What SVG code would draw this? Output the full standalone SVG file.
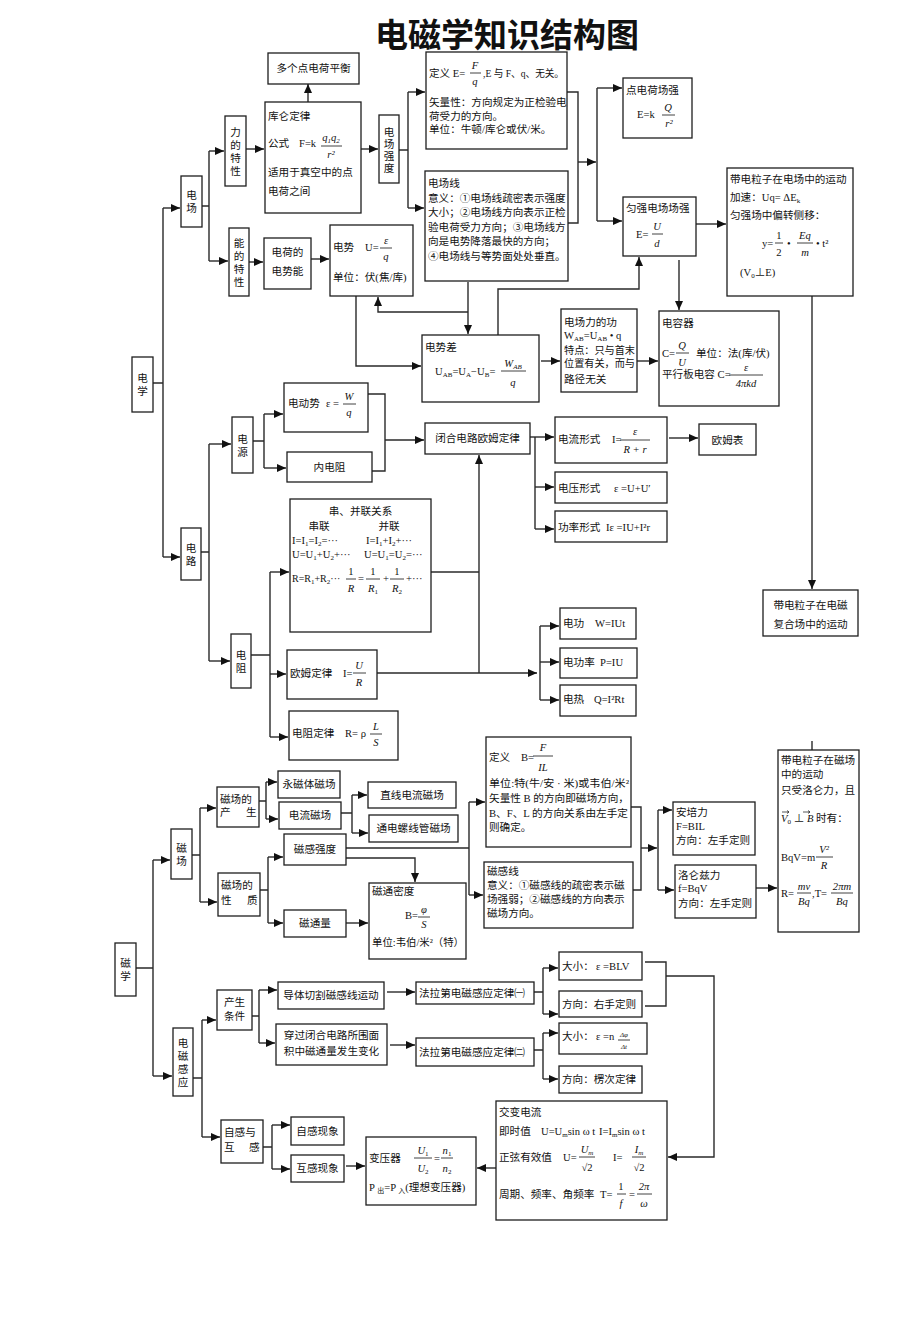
<svg xmlns="http://www.w3.org/2000/svg" width="920" height="1329" viewBox="0 0 920 1329">
<style>
.bx{fill:#fff;stroke:#1e1e1e;stroke-width:1.3}
.c path{fill:none;stroke:#2a2a2a;stroke-width:1.4}
.c .a{marker-end:url(#ah)}
text{font-family:"Liberation Serif","Noto Sans CJK SC",serif;font-size:10.6px;fill:#111}
.m{font-style:italic}
.mid{text-anchor:middle}
.fl{stroke:#111;stroke-width:0.8}
.sb{font-size:7px}
.tiny{font-size:7px}
</style>
<defs>
<marker id="ah" markerWidth="9" markerHeight="8" refX="9" refY="4" orient="auto" markerUnits="userSpaceOnUse"><path d="M0,0 L9,4 L0,8 z" fill="#111"/></marker>
</defs>
<rect width="920" height="1329" fill="#fff"/>
<g id="title"><text x="507" y="47" style="font-family:'Noto Sans CJK SC',sans-serif;font-size:33px;font-weight:700;text-anchor:middle">电磁学知识结构图</text></g>

<g id="connectors" class="c">
<path d="M152,383H163M163,208V557"/>
<path class="a" d="M163,208H180"/>
<path class="a" d="M163,557H180"/>
<path d="M202,206H209M209,151V261"/>
<path class="a" d="M209,151H224"/>
<path class="a" d="M209,261H228"/>
<path class="a" d="M246,149H264"/>
<path class="a" d="M308,102V84"/>
<path class="a" d="M361,149H378"/>
<path d="M399,150H408M408,92V208"/>
<path class="a" d="M408,92H425"/>
<path class="a" d="M408,208H424"/>
<path d="M567,92H578V223H568"/>
<path class="a" d="M578,162H596"/>
<path d="M597,88V221"/>
<path class="a" d="M597,88H622"/>
<path class="a" d="M597,221H622"/>
<path class="a" d="M696,224H726"/>
<path class="a" d="M679,260V310"/>
<path class="a" d="M812,296V589"/>
<path class="a" d="M249,262H263"/>
<path class="a" d="M311,259H329"/>
<path class="a" d="M356,296V366H421"/>
<path class="a" d="M468,282V334"/>
<path class="a" d="M468,312H378V297"/>
<path class="a" d="M498,335V289H639V257"/>
<path class="a" d="M541,361H560"/>
<path class="a" d="M637,361H658"/>
<path d="M201,552H209M209,444V661"/>
<path class="a" d="M209,444H231"/>
<path class="a" d="M209,661H230"/>
<path d="M253,441H264M264,414V468"/>
<path class="a" d="M264,414H283"/>
<path class="a" d="M264,468H286"/>
<path d="M368,394H385V471H372"/>
<path class="a" d="M385,440H424"/>
<path class="a" d="M530,437H554"/>
<path d="M535,437V529"/>
<path class="a" d="M535,487H554"/>
<path class="a" d="M535,529H554"/>
<path class="a" d="M669,438H698"/>
<path d="M251,655H270M270,572V737"/>
<path class="a" d="M270,572H289"/>
<path class="a" d="M270,674H286"/>
<path class="a" d="M270,737H288"/>
<path d="M431,572H479"/>
<path class="a" d="M479,673V455"/>
<path class="a" d="M377,673H537"/>
<path d="M540,626V700"/>
<path class="a" d="M540,626H559"/>
<path class="a" d="M540,662H559"/>
<path class="a" d="M540,700H559"/>
<path d="M136,968H153M153,860V1076"/>
<path class="a" d="M153,860H170"/>
<path class="a" d="M153,1076H172"/>
<path d="M192,855H200M200,808V902"/>
<path class="a" d="M200,808H216"/>
<path class="a" d="M200,902H217"/>
<path d="M259,801H266M266,782V819"/>
<path class="a" d="M266,782H277"/>
<path class="a" d="M266,819H278"/>
<path d="M341,813H352M352,795V833"/>
<path class="a" d="M352,795H367"/>
<path class="a" d="M352,833H368"/>
<path d="M260,890H268M268,857V923"/>
<path class="a" d="M268,857H283"/>
<path class="a" d="M268,923H283"/>
<path d="M346,848H469M469,802V895"/>
<path class="a" d="M469,802H485"/>
<path class="a" d="M469,895H483"/>
<path class="a" d="M346,858H415V882"/>
<path class="a" d="M346,923H368"/>
<path d="M631,807H641V890H633"/>
<path class="a" d="M641,848H657"/>
<path d="M658,810V890"/>
<path class="a" d="M658,810H672"/>
<path class="a" d="M658,890H674"/>
<path class="a" d="M756,888H777"/>
<path d="M812,741V750"/>
<path d="M193,1078H202M202,1020V1137"/>
<path class="a" d="M202,1020H216"/>
<path class="a" d="M202,1137H220"/>
<path d="M252,1016H259M259,990V1043"/>
<path class="a" d="M259,990H277"/>
<path class="a" d="M259,1043H275"/>
<path class="a" d="M387,992H415"/>
<path class="a" d="M390,1045H415"/>
<path d="M534,992H543M543,968V1014"/>
<path class="a" d="M543,968H558"/>
<path class="a" d="M543,1014H558"/>
<path d="M534,1050H543M543,1033V1079"/>
<path class="a" d="M543,1033H558"/>
<path class="a" d="M543,1079H558"/>
<path d="M645,962H666V1006H645"/>
<path class="a" d="M666,976H714V1157H668"/>
<path d="M263,1147H272M272,1125V1169"/>
<path class="a" d="M272,1125H290"/>
<path class="a" d="M272,1169H290"/>
<path class="a" d="M346,1166H365"/>
<path class="a" d="M496,1168H477"/>
</g>

<g id="n-dianxue"><rect class="bx" x="132" y="357" width="21" height="55"/><text class="mid"><tspan x="142.5" y="382">电</tspan><tspan x="142.5" y="395">学</tspan></text></g>
<g id="n-dianchang"><rect class="bx" x="181" y="176" width="21" height="51"/><text class="mid"><tspan x="191.5" y="199">电</tspan><tspan x="191.5" y="212">场</tspan></text></g>
<g id="n-lide"><rect class="bx" x="225" y="116" width="21" height="70"/><text class="mid"><tspan x="235.5" y="135.5">力</tspan><tspan x="235.5" y="148.5">的</tspan><tspan x="235.5" y="161.5">特</tspan><tspan x="235.5" y="174.5">性</tspan></text></g>
<g id="n-nengde"><rect class="bx" x="229" y="228" width="20" height="68"/><text class="mid"><tspan x="239" y="246.5">能</tspan><tspan x="239" y="259.5">的</tspan><tspan x="239" y="272.5">特</tspan><tspan x="239" y="285.5">性</tspan></text></g>
<g id="n-duoge"><rect class="bx" x="268" y="53" width="91" height="31"/><text class="mid" x="313.5" y="72">多个点电荷平衡</text></g>
<g id="n-kulun"><rect class="bx" x="265" y="102" width="96" height="111"/>
<text x="268" y="120">库仑定律</text>
<text x="268" y="147">公式</text><text x="299" y="147">F=k</text>
<text class="m mid" x="331" y="141">q<tspan class="sb" dy="2">1</tspan><tspan dy="-2">q</tspan><tspan class="sb" dy="2">2</tspan></text>
<line class="fl" x1="321" y1="146" x2="342" y2="146"/>
<text class="m mid" x="331" y="158">r²</text>
<text x="268" y="176">适用于真空中的点</text>
<text x="268" y="195">电荷之间</text></g>
<g id="n-changqiang"><rect class="bx" x="379" y="115" width="20" height="68"/><text class="mid"><tspan x="389" y="136">电</tspan><tspan x="389" y="148">场</tspan><tspan x="389" y="160">强</tspan><tspan x="389" y="172">度</tspan></text></g>
<g id="n-dingyiE"><rect class="bx" x="426" y="52" width="141" height="97"/>
<text x="429" y="77">定义 E=</text>
<text class="m mid" x="475" y="69">F</text><line class="fl" x1="470" y1="73" x2="481" y2="73"/><text class="m mid" x="475" y="85">q</text>
<text x="483" y="77" textLength="81" lengthAdjust="spacingAndGlyphs">,E 与 F、q、无关。</text>
<text x="429" y="106">矢量性：方向规定为正检验电</text>
<text x="429" y="120">荷受力的方向。</text>
<text x="429" y="133">单位：牛顿/库仑或伏/米。</text></g>
<g id="n-dianchangxian"><rect class="bx" x="425" y="171" width="143" height="110"/>
<text x="428" y="187">电场线</text>
<text x="428" y="202">意义：①电场线疏密表示强度</text>
<text x="428" y="216">大小；②电场线方向表示正检</text>
<text x="428" y="231">验电荷受力方向；③电场线方</text>
<text x="428" y="245">向是电势降落最快的方向；</text>
<text x="428" y="260">④电场线与等势面处处垂直。</text></g>
<g id="n-dianhe"><rect class="bx" x="623" y="78" width="69" height="60"/>
<text x="626" y="94">点电荷场强</text>
<text x="637" y="118">E=k</text>
<text class="m mid" x="668" y="111">Q</text><line class="fl" x1="662" y1="115" x2="675" y2="115"/><text class="m mid" x="669" y="127">r²</text></g>
<g id="n-yunqiang"><rect class="bx" x="623" y="197" width="73" height="59"/>
<text x="626" y="212">匀强电场场强</text>
<text x="636" y="238">E=</text>
<text class="m mid" x="657" y="230">U</text><line class="fl" x1="652" y1="234" x2="663" y2="234"/><text class="m mid" x="657" y="247">d</text></g>
<g id="n-lizi-e"><rect class="bx" x="727" y="168" width="126" height="128"/>
<text x="730" y="183">带电粒子在电场中的运动</text>
<text x="730" y="201">加速：Uq= ΔE<tspan class="sb" dy="2">k</tspan></text>
<text x="730" y="219">匀强场中偏转侧移：</text>
<text x="762" y="247">y=</text>
<text class="mid" x="779" y="239">1</text><line class="fl" x1="775" y1="243" x2="783" y2="243"/><text class="mid" x="779" y="256">2</text>
<text x="787" y="247">•</text>
<text class="m mid" x="805" y="239">Eq</text><line class="fl" x1="797" y1="243" x2="813" y2="243"/><text class="m mid" x="805" y="256">m</text>
<text x="816" y="247">• t²</text>
<text x="740" y="276">(V<tspan class="sb" dy="2">0</tspan><tspan dy="-2">⊥E)</tspan></text></g>
<g id="n-shineng"><rect class="bx" x="264" y="238" width="47" height="51"/><text class="mid" x="287.5" y="256">电荷的</text><text class="mid" x="287.5" y="275">电势能</text></g>
<g id="n-dianshi"><rect class="bx" x="330" y="225" width="83" height="71"/>
<text x="333" y="251">电势</text><text x="365" y="251">U=</text>
<text class="m mid" x="386" y="244">ε</text><line class="fl" x1="380" y1="248" x2="392" y2="248"/><text class="m mid" x="386" y="260">q</text>
<text x="333" y="281">单位：伏(焦/库)</text></g>
<g id="n-dianshicha"><rect class="bx" x="422" y="335" width="117" height="67"/>
<text x="425" y="351">电势差</text>
<text x="435" y="375">U<tspan class="sb" dy="2">AB</tspan><tspan dy="-2">=U</tspan><tspan class="sb" dy="2">A</tspan><tspan dy="-2">−U</tspan><tspan class="sb" dy="2">B</tspan><tspan dy="-2">=</tspan></text>
<text class="m mid" x="513" y="367">W<tspan class="sb" dy="2">AB</tspan></text><line class="fl" x1="501" y1="371" x2="526" y2="371"/><text class="m mid" x="513" y="386">q</text></g>
<g id="n-gong"><rect class="bx" x="561" y="309" width="76" height="83"/>
<text x="564" y="326">电场力的功</text>
<text x="564" y="339">W<tspan class="sb" dy="2">AB</tspan><tspan dy="-2">=U</tspan><tspan class="sb" dy="2">AB</tspan><tspan dy="-2"> • q</tspan></text>
<text x="564" y="354" textLength="71" lengthAdjust="spacingAndGlyphs">特点：只与首末</text>
<text x="564" y="367" textLength="71" lengthAdjust="spacingAndGlyphs">位置有关，而与</text>
<text x="564" y="383">路径无关</text></g>
<g id="n-dianrong"><rect class="bx" x="659" y="311" width="120" height="95"/>
<text x="662" y="327">电容器</text>
<text x="662" y="357">C=</text>
<text class="m mid" x="682" y="349">Q</text><line class="fl" x1="676" y1="353" x2="689" y2="353"/><text class="m mid" x="682" y="366">U</text>
<text x="696" y="357">单位：法(库/伏)</text>
<text x="662" y="378">平行板电容 C=</text>
<text class="m mid" x="746" y="371">ε</text><line class="fl" x1="729" y1="375" x2="763" y2="375"/><text class="m mid" x="746" y="387">4πkd</text></g>

<g id="n-dianlu"><rect class="bx" x="181" y="528" width="20" height="52"/><text class="mid"><tspan x="191" y="551.5">电</tspan><tspan x="191" y="564.5">路</tspan></text></g>
<g id="n-dianyuan"><rect class="bx" x="232" y="417" width="21" height="56"/><text class="mid"><tspan x="242.5" y="442.5">电</tspan><tspan x="242.5" y="455.5">源</tspan></text></g>
<g id="n-dongshi"><rect class="bx" x="284" y="383" width="84" height="49"/>
<text x="288" y="407">电动势</text><text x="326" y="407">ε =</text>
<text class="m mid" x="349" y="400">W</text><line class="fl" x1="343" y1="404" x2="356" y2="404"/><text class="m mid" x="349" y="416">q</text></g>
<g id="n-neizu"><rect class="bx" x="287" y="452" width="85" height="30"/><text class="mid" x="329.5" y="471">内电阻</text></g>
<g id="n-bihe"><rect class="bx" x="425" y="423" width="105" height="31"/><text class="mid" x="477.5" y="442">闭合电路欧姆定律</text></g>
<g id="n-dianliu"><rect class="bx" x="555" y="417" width="112" height="46"/>
<text x="558" y="443">电流形式</text><text x="612" y="443">I=</text>
<text class="m mid" x="635" y="435">ε</text><line class="fl" x1="620" y1="440" x2="650" y2="440"/><text class="m mid" x="635" y="453">R + r</text></g>
<g id="n-oumubiao"><rect class="bx" x="699" y="424" width="57" height="31"/><text class="mid" x="727.5" y="444">欧姆表</text></g>
<g id="n-dianya"><rect class="bx" x="555" y="472" width="112" height="31"/><text x="558" y="492">电压形式</text><text x="614" y="492">ε =U+U′</text></g>
<g id="n-gonglv"><rect class="bx" x="555" y="511" width="112" height="31"/><text x="558" y="531">功率形式</text><text x="606" y="531">Iε =IU+I²r</text></g>
<g id="n-dianzu"><rect class="bx" x="231" y="634" width="20" height="54"/><text class="mid"><tspan x="241" y="658.5">电</tspan><tspan x="241" y="671.5">阻</tspan></text></g>
<g id="n-chuanbing"><rect class="bx" x="290" y="499" width="141" height="133"/>
<text class="mid" x="360.5" y="515">串、并联关系</text>
<text class="mid" x="319" y="530">串联</text><text class="mid" x="389" y="530">并联</text>
<text x="292" y="544">I=I<tspan class="sb" dy="2">1</tspan><tspan dy="-2">=I</tspan><tspan class="sb" dy="2">2</tspan><tspan dy="-2">=···</tspan></text>
<text x="366" y="544">I=I<tspan class="sb" dy="2">1</tspan><tspan dy="-2">+I</tspan><tspan class="sb" dy="2">2</tspan><tspan dy="-2">+···</tspan></text>
<text x="292" y="558">U=U<tspan class="sb" dy="2">1</tspan><tspan dy="-2">+U</tspan><tspan class="sb" dy="2">2</tspan><tspan dy="-2">+···</tspan></text>
<text x="364" y="558">U=U<tspan class="sb" dy="2">1</tspan><tspan dy="-2">=U</tspan><tspan class="sb" dy="2">2</tspan><tspan dy="-2">=···</tspan></text>
<text x="292" y="582" style="font-size:10px">R=R<tspan class="sb" dy="2">1</tspan><tspan dy="-2">+R</tspan><tspan class="sb" dy="2">2</tspan><tspan dy="-2">···</tspan></text>
<text class="mid" x="351" y="575">1</text><line class="fl" x1="346" y1="579" x2="356" y2="579"/><text class="m mid" x="351" y="592">R</text>
<text x="358" y="582">=</text>
<text class="mid" x="373" y="575">1</text><line class="fl" x1="366" y1="579" x2="380" y2="579"/><text class="m mid" x="373" y="592">R<tspan class="sb" dy="2" style="font-style:normal">1</tspan></text>
<text x="383" y="582">+</text>
<text class="mid" x="397" y="575">1</text><line class="fl" x1="390" y1="579" x2="404" y2="579"/><text class="m mid" x="397" y="592">R<tspan class="sb" dy="2" style="font-style:normal">2</tspan></text>
<text x="406" y="582">+···</text></g>
<g id="n-oumu"><rect class="bx" x="287" y="650" width="90" height="49"/>
<text x="290" y="677">欧姆定律</text><text x="343" y="677">I=</text>
<text class="m mid" x="359" y="669">U</text><line class="fl" x1="353" y1="673" x2="366" y2="673"/><text class="m mid" x="359" y="686">R</text></g>
<g id="n-dianzudinglv"><rect class="bx" x="289" y="711" width="109" height="49"/>
<text x="292" y="737">电阻定律</text><text x="345" y="737">R= ρ</text>
<text class="m mid" x="376" y="730">L</text><line class="fl" x1="370" y1="734" x2="382" y2="734"/><text class="m mid" x="376" y="746">S</text></g>
<g id="n-diangong"><rect class="bx" x="560" y="608" width="76" height="31"/><text x="563" y="627">电功</text><text x="595" y="627">W=IUt</text></g>
<g id="n-diangonglv"><rect class="bx" x="560" y="648" width="77" height="30"/><text x="563" y="666">电功率</text><text x="600" y="666">P=IU</text></g>
<g id="n-dianre"><rect class="bx" x="560" y="685" width="76" height="31"/><text x="563" y="703">电热</text><text x="594" y="703">Q=I²Rt</text></g>
<g id="n-fuhe"><rect class="bx" x="763" y="590" width="95" height="46"/><text class="mid" x="810.5" y="609">带电粒子在电磁</text><text class="mid" x="810.5" y="628">复合场中的运动</text></g>

<g id="n-cixue"><rect class="bx" x="115" y="943" width="21" height="53"/><text class="mid"><tspan x="125.5" y="967">磁</tspan><tspan x="125.5" y="980">学</tspan></text></g>
<g id="n-cichang"><rect class="bx" x="171" y="829" width="21" height="50"/><text class="mid"><tspan x="181.5" y="851.5">磁</tspan><tspan x="181.5" y="864.5">场</tspan></text></g>
<g id="n-chansheng"><rect class="bx" x="217" y="787" width="42" height="40"/><text x="220" y="803">磁场的</text><text x="220" y="816">产</text><text x="246" y="816">生</text></g>
<g id="n-yongci"><rect class="bx" x="278" y="771" width="62" height="27"/><text class="mid" x="309" y="788">永磁体磁场</text></g>
<g id="n-dianliuci"><rect class="bx" x="279" y="802" width="62" height="27"/><text class="mid" x="310" y="819">电流磁场</text></g>
<g id="n-zhixian"><rect class="bx" x="368" y="782" width="88" height="26"/><text class="mid" x="412" y="799">直线电流磁场</text></g>
<g id="n-luoxian"><rect class="bx" x="369" y="815" width="89" height="27"/><text class="mid" x="413.5" y="832">通电螺线管磁场</text></g>
<g id="n-xingzhi"><rect class="bx" x="218" y="873" width="42" height="43"/><text x="221" y="889">磁场的</text><text x="221" y="904">性</text><text x="247" y="904">质</text></g>
<g id="n-ciganqiang"><rect class="bx" x="284" y="834" width="62" height="31"/><text class="mid" x="315" y="853">磁感强度</text></g>
<g id="n-citongliang"><rect class="bx" x="284" y="910" width="62" height="27"/><text class="mid" x="315" y="927">磁通量</text></g>
<g id="n-citongmidu"><rect class="bx" x="369" y="883" width="97" height="76"/>
<text x="372" y="895">磁通密度</text>
<text x="405" y="919">B=</text>
<text class="m mid" x="424" y="913">φ</text><line class="fl" x1="418" y1="917" x2="430" y2="917"/><text class="m mid" x="424" y="928">S</text>
<text x="372" y="946" textLength="92" lengthAdjust="spacingAndGlyphs">单位:韦伯/米²（特）</text></g>
<g id="n-dingyiB"><rect class="bx" x="486" y="737" width="145" height="110"/>
<text x="489" y="761">定义</text><text x="521" y="761">B=</text>
<text class="m mid" x="543" y="751">F</text><line class="fl" x1="533" y1="756" x2="553" y2="756"/><text class="m mid" x="543" y="771">IL</text>
<text x="489" y="787" textLength="140" lengthAdjust="spacingAndGlyphs">单位:特(牛/安 · 米)或韦伯/米²</text>
<text x="489" y="802" textLength="140" lengthAdjust="spacingAndGlyphs">矢量性  B 的方向即磁场方向，</text>
<text x="489" y="817" textLength="139" lengthAdjust="spacingAndGlyphs">B、F、L 的方向关系由左手定</text>
<text x="489" y="831">则确定。</text></g>
<g id="n-ciganxian"><rect class="bx" x="484" y="862" width="149" height="66"/>
<text x="487" y="875">磁感线</text>
<text x="487" y="889">意义：①磁感线的疏密表示磁</text>
<text x="487" y="903">场强弱；②磁感线的方向表示</text>
<text x="487" y="917">磁场方向。</text></g>
<g id="n-anpei"><rect class="bx" x="673" y="802" width="82" height="53"/>
<text x="676" y="816">安培力</text><text x="676" y="830">F=BIL</text><text x="676" y="844">方向：左手定则</text></g>
<g id="n-luolun"><rect class="bx" x="675" y="865" width="81" height="53"/>
<text x="678" y="879">洛仑兹力</text><text x="678" y="892">f=BqV</text><text x="678" y="907">方向：左手定则</text></g>
<g id="n-lizi-b"><rect class="bx" x="778" y="750" width="81" height="182"/>
<text x="781" y="764">带电粒子在磁场</text>
<text x="781" y="778">中的运动</text>
<text x="781" y="794">只受洛仑力，且</text>
<text x="781" y="822"><tspan class="m">V</tspan><tspan class="sb" dy="2">0</tspan><tspan dy="-2"> ⊥ </tspan><tspan class="m">B</tspan> 时有：</text>
<path d="M782,812H789M787,810.5L789,812L787,813.5M803,812H810M808,810.5L810,812L808,813.5" fill="none" stroke="#111" stroke-width="0.7"/>
<text x="781" y="861">BqV=m</text>
<text class="m mid" x="824" y="853">V²</text><line class="fl" x1="816" y1="857" x2="833" y2="857"/><text class="m mid" x="824" y="869">R</text>
<text x="781" y="897">R=</text>
<text class="m mid" x="804" y="890">mv</text><line class="fl" x1="797" y1="893" x2="811" y2="893"/><text class="m mid" x="804" y="905">Bq</text>
<text x="812" y="897">,T=</text>
<text class="m mid" x="842" y="890">2πm</text><line class="fl" x1="831" y1="893" x2="853" y2="893"/><text class="m mid" x="842" y="905">Bq</text></g>

<g id="n-dcgy"><rect class="bx" x="173" y="1028" width="20" height="68"/><text class="mid"><tspan x="183" y="1046.5">电</tspan><tspan x="183" y="1059.5">磁</tspan><tspan x="183" y="1072.5">感</tspan><tspan x="183" y="1085.5">应</tspan></text></g>
<g id="n-tiaojian"><rect class="bx" x="217" y="990" width="35" height="40"/><text class="mid" x="234.5" y="1006">产生</text><text class="mid" x="234.5" y="1020">条件</text></g>
<g id="n-qiege"><rect class="bx" x="278" y="982" width="106" height="27"/><text class="mid" x="331" y="999">导体切割磁感线运动</text></g>
<g id="n-chuanguo"><rect class="bx" x="276" y="1024" width="111" height="41"/><text class="mid" x="331.5" y="1039">穿过闭合电路所围面</text><text class="mid" x="331.5" y="1055">积中磁通量发生变化</text></g>
<g id="n-fa1"><rect class="bx" x="416" y="982" width="118" height="22"/><text x="419" y="997">法拉第电磁感应定律㈠</text></g>
<g id="n-fa2"><rect class="bx" x="416" y="1038" width="118" height="28"/><text x="419" y="1056">法拉第电磁感应定律㈡</text></g>
<g id="n-blv"><rect class="bx" x="559" y="952" width="83" height="28"/><text x="562" y="970">大小：</text><text x="596" y="970">ε =BLV</text></g>
<g id="n-youshou"><rect class="bx" x="559" y="991" width="83" height="26"/><text x="562" y="1008">方向：右手定则</text></g>
<g id="n-daxiao2"><rect class="bx" x="559" y="1023" width="88" height="31"/><text x="562" y="1040">大小：</text><text x="596" y="1040">ε =n</text>
<text class="m mid tiny" x="624" y="1037">Δφ</text><line class="fl" x1="618" y1="1040" x2="630" y2="1040"/><text class="m mid tiny" x="624" y="1049">Δt</text></g>
<g id="n-lengci"><rect class="bx" x="559" y="1066" width="83" height="27"/><text x="562" y="1083">方向：楞次定律</text></g>
<g id="n-zihu"><rect class="bx" x="221" y="1120" width="42" height="43"/><text x="224" y="1136">自感与</text><text x="224" y="1151">互</text><text x="249" y="1151">感</text></g>
<g id="n-zigan"><rect class="bx" x="291" y="1117" width="53" height="28"/><text class="mid" x="317.5" y="1135">自感现象</text></g>
<g id="n-hugan"><rect class="bx" x="291" y="1155" width="53" height="27"/><text class="mid" x="317.5" y="1172">互感现象</text></g>
<g id="n-bianyaqi"><rect class="bx" x="366" y="1137" width="110" height="68"/>
<text x="369" y="1162">变压器</text>
<text class="m mid" x="423" y="1154">U<tspan class="sb" dy="2" style="font-style:normal">1</tspan></text><line class="fl" x1="414" y1="1158" x2="432" y2="1158"/><text class="m mid" x="423" y="1172">U<tspan class="sb" dy="2" style="font-style:normal">2</tspan></text>
<text x="434" y="1162">=</text>
<text class="m mid" x="447" y="1154">n<tspan class="sb" dy="2" style="font-style:normal">1</tspan></text><line class="fl" x1="441" y1="1158" x2="453" y2="1158"/><text class="m mid" x="447" y="1172">n<tspan class="sb" dy="2" style="font-style:normal">2</tspan></text>
<text x="369" y="1191">P <tspan class="sb" dy="2">出</tspan><tspan dy="-2">=P </tspan><tspan class="sb" dy="2">入</tspan><tspan dy="-2">(理想变压器)</tspan></text></g>
<g id="n-jiaobian"><rect class="bx" x="496" y="1101" width="171" height="119"/>
<text x="499" y="1116">交变电流</text>
<text x="499" y="1135">即时值</text>
<text x="541" y="1135">U=U<tspan class="sb" dy="2">m</tspan><tspan dy="-2">sin ω t</tspan></text>
<text x="599" y="1135">I=I<tspan class="sb" dy="2">m</tspan><tspan dy="-2">sin ω t</tspan></text>
<text x="499" y="1161">正弦有效值</text>
<text x="563" y="1161">U=</text>
<text class="m mid" x="587" y="1153">U<tspan class="sb" dy="2">m</tspan></text><line class="fl" x1="579" y1="1157" x2="595" y2="1157"/><text class="mid" x="587" y="1171">√2</text>
<text x="613" y="1161">I=</text>
<text class="m mid" x="639" y="1153">I<tspan class="sb" dy="2">m</tspan></text><line class="fl" x1="632" y1="1157" x2="646" y2="1157"/><text class="mid" x="639" y="1171">√2</text>
<text x="499" y="1198">周期、频率、角频率</text>
<text x="600" y="1198">T=</text>
<text class="mid" x="621" y="1190">1</text><line class="fl" x1="617" y1="1194" x2="626" y2="1194"/><text class="m mid" x="621" y="1207">f</text>
<text x="629" y="1198">=</text>
<text class="m mid" x="644" y="1190">2π</text><line class="fl" x1="637" y1="1194" x2="652" y2="1194"/><text class="m mid" x="644" y="1207">ω</text></g>
</svg>
